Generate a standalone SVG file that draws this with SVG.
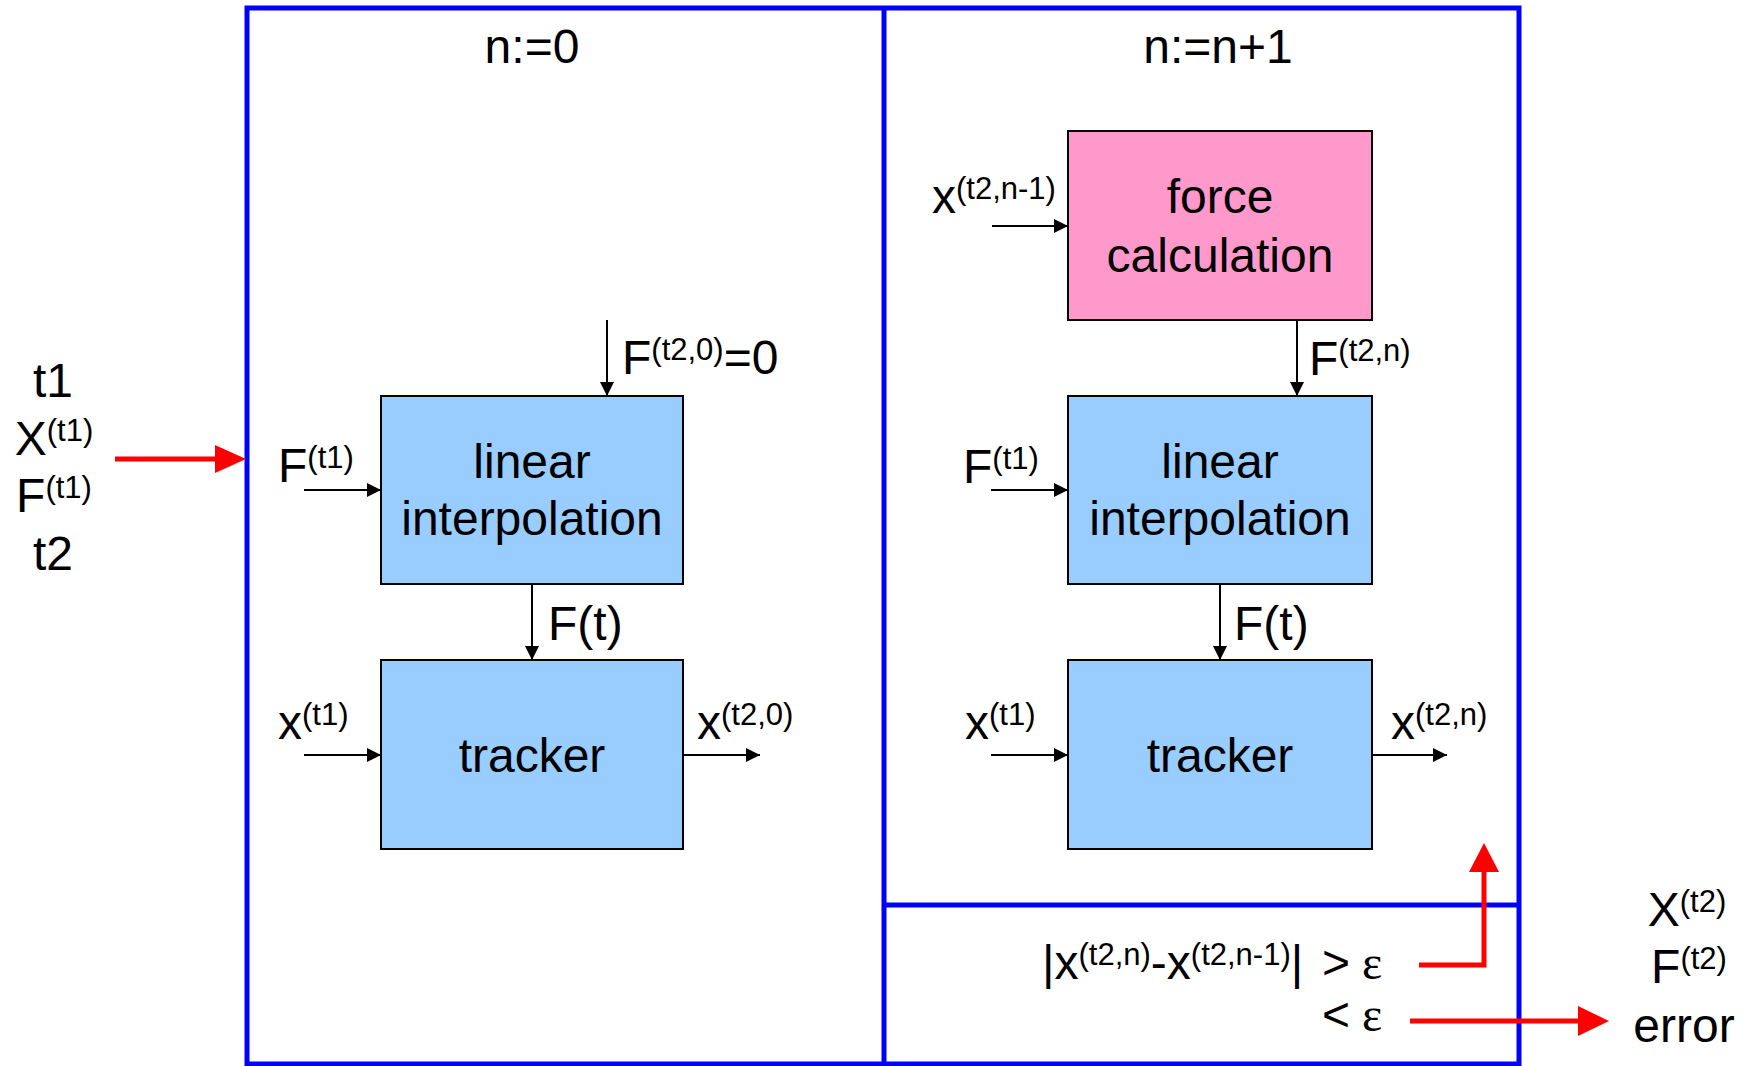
<svg xmlns="http://www.w3.org/2000/svg" width="1749" height="1066" viewBox="0 0 1749 1066">
<style>
text{font-family:"Liberation Sans",Arial,sans-serif;font-size:48px;fill:#000}
.c{text-anchor:middle}
.s{font-size:31px}
.eps{font-family:"Liberation Serif","Times New Roman",serif;font-size:48px}
.box{stroke:#000;stroke-width:2}
.blue{fill:#99CCFF}
.pink{fill:#FF99CC}
.frame{fill:none;stroke:#0000FF;stroke-width:5}
.arr{stroke:#000;stroke-width:2;fill:none;marker-end:url(#ah)}
.red{stroke:#FF0000;stroke-width:5;fill:none}
.redh{fill:#FF0000}
</style>
<defs>
<marker id="ah" markerWidth="14" markerHeight="14" refX="14" refY="7" orient="auto" markerUnits="userSpaceOnUse"><path d="M0,0 L14,7 L0,14 z" fill="#000"/></marker>
</defs>

<g id="frame">
<rect class="frame" x="247" y="8" width="1272" height="1056"/>
<line class="frame" x1="884" y1="8" x2="884" y2="1064"/>
<line class="frame" x1="884" y1="905" x2="1519" y2="905"/>
<text class="c" x="532" y="63">n:=0</text>
<text class="c" x="1218" y="63">n:=n+1</text>
</g>

<g id="inputs">
<text class="c" x="53" y="397">t1</text>
<text class="c" x="54" y="455">X<tspan class="s" dy="-14">(t1)</tspan></text>
<text class="c" x="54" y="512">F<tspan class="s" dy="-14">(t1)</tspan></text>
<text class="c" x="53" y="570">t2</text>
</g>

<g id="outputs">
<text class="c" x="1687" y="926">X<tspan class="s" dy="-14">(t2)</tspan></text>
<text class="c" x="1689" y="983">F<tspan class="s" dy="-14">(t2)</tspan></text>
<text class="c" x="1684" y="1042">error</text>
</g>

<g id="lin0">
<rect class="box blue" x="381" y="396" width="302" height="188"/>
<text class="c" x="532" y="478">linear</text>
<text class="c" x="532" y="535">interpolation</text>
</g>
<g id="trk0">
<rect class="box blue" x="381" y="660" width="302" height="189"/>
<text class="c" x="532" y="772">tracker</text>
</g>
<g id="force">
<rect class="box pink" x="1068" y="131" width="304" height="189"/>
<text class="c" x="1220" y="213">force</text>
<text class="c" x="1220" y="272">calculation</text>
</g>
<g id="lin1">
<rect class="box blue" x="1068" y="396" width="304" height="188"/>
<text class="c" x="1220" y="478">linear</text>
<text class="c" x="1220" y="535">interpolation</text>
</g>
<g id="trk1">
<rect class="box blue" x="1068" y="660" width="304" height="189"/>
<text class="c" x="1220" y="772">tracker</text>
</g>

<g id="labels">
<text x="622" y="374">F<tspan class="s" dy="-14">(t2,0)</tspan><tspan dy="14">=0</tspan></text>
<text x="278" y="482">F<tspan class="s" dy="-14">(t1)</tspan></text>
<text x="548" y="640">F(t)</text>
<text x="278" y="739">x<tspan class="s" dy="-14">(t1)</tspan></text>
<text x="697" y="739">x<tspan class="s" dy="-14">(t2,0)</tspan></text>
<text x="932" y="213">x<tspan class="s" dy="-14">(t2,n-1)</tspan></text>
<text x="1309" y="375">F<tspan class="s" dy="-14">(t2,n)</tspan></text>
<text x="963" y="483">F<tspan class="s" dy="-14">(t1)</tspan></text>
<text x="1234" y="640">F(t)</text>
<text x="965" y="739">x<tspan class="s" dy="-14">(t1)</tspan></text>
<text x="1391" y="739">x<tspan class="s" dy="-14">(t2,n)</tspan></text>
<text x="1042" y="979">|x<tspan class="s" dy="-14">(t2,n)</tspan><tspan dy="14">-x</tspan><tspan class="s" dy="-14">(t2,n-1)</tspan><tspan dy="14">|</tspan></text>
<text x="1322" y="979">&gt;</text>
<text class="eps" x="1362" y="979">ε</text>
<text x="1322" y="1031">&lt;</text>
<text class="eps" x="1362" y="1031">ε</text>
</g>

<g id="connectors">
<line class="arr" x1="607" y1="320" x2="607" y2="396"/>
<line class="arr" x1="304" y1="490" x2="381" y2="490"/>
<line class="arr" x1="532" y1="584" x2="532" y2="660"/>
<line class="arr" x1="304" y1="755" x2="381" y2="755"/>
<line class="arr" x1="683" y1="755" x2="760" y2="755"/>
<line class="arr" x1="992" y1="226" x2="1068" y2="226"/>
<line class="arr" x1="1297" y1="320" x2="1297" y2="396"/>
<line class="arr" x1="991" y1="490" x2="1068" y2="490"/>
<line class="arr" x1="1220" y1="584" x2="1220" y2="660"/>
<line class="arr" x1="991" y1="755" x2="1068" y2="755"/>
<line class="arr" x1="1372" y1="755" x2="1447" y2="755"/>
<line class="red" x1="115" y1="459" x2="216" y2="459"/>
<polygon class="redh" points="215,445 246,459 215,473"/>
<polyline class="red" points="1419,965 1484,965 1484,870"/>
<polygon class="redh" points="1469,872 1484,843 1499,872"/>
<line class="red" x1="1410" y1="1021" x2="1580" y2="1021"/>
<polygon class="redh" points="1578,1006 1609,1021 1578,1036"/>
</g>
</svg>
